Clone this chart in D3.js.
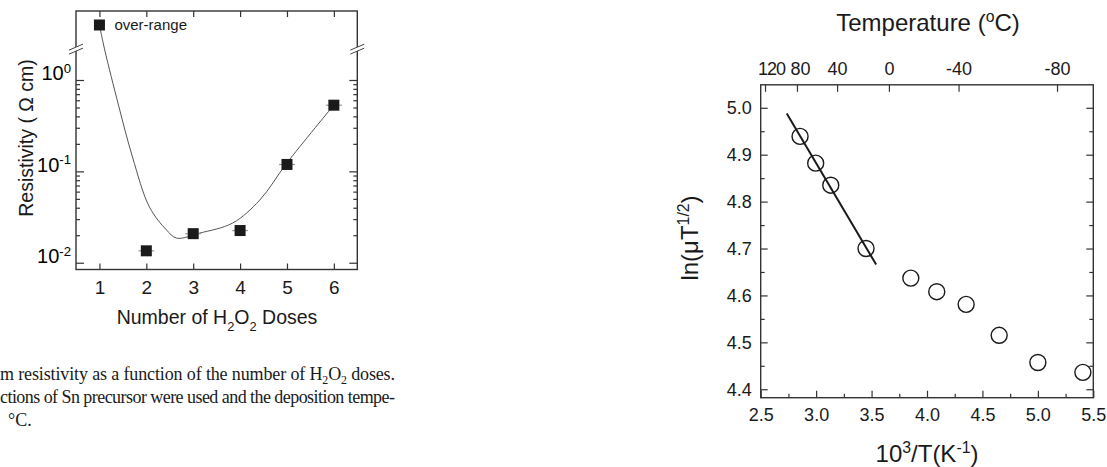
<!DOCTYPE html>
<html>
<head>
<meta charset="utf-8">
<script src="https://cdn.jsdelivr.net/npm/d3@7"></script>
<style>
  body { margin: 0; background: #fff; }
  svg { display: block; font-family: Arial, "Liberation Sans", sans-serif; fill: #1a1a1a; }
  .frame { fill: none; stroke: #333; stroke-width: 1.4; }
  .tick line { stroke: #333; stroke-width: 1.2; }
</style>
</head>
<body>
<svg id="fig" width="1107" height="467"></svg>
<script>
// ---- left panel: film resistivity vs number of H2O2 doses ----
var doses = [2, 3, 4, 5, 6];
var resistivity = [0.0135, 0.0208, 0.0225, 0.119, 0.53];
var overRangeDose = [1];
var overRangeValue = [4.0];
var fitDoses = [1.0, 1.113, 1.406, 1.705, 2.068, 2.432, 2.645, 3.137, 3.842, 4.419, 4.996, 6.0];
var fitRes = [4.0, 2.13, 0.532, 0.1435, 0.0406, 0.0228, 0.0186, 0.0211, 0.0272, 0.0485, 0.123, 0.532];
var doseTicks = [1, 2, 3, 4, 5, 6];
var resDecades = [-2, -1, 0];

// ---- right panel: ln(mu T^1/2) vs 1000/T ----
var invT = [2.855, 2.996, 3.132, 3.45, 3.854, 4.088, 4.353, 4.651, 5.0, 5.406];
var lnMuT = [4.939, 4.882, 4.835, 4.700, 4.637, 4.608, 4.581, 4.515, 4.457, 4.436];
var fitInvT = [2.735, 3.541];
var fitLn = [4.988, 4.666];
var invTTicks = [2.5, 3.0, 3.5, 4.0, 4.5, 5.0, 5.5];
var lnTicks = [4.4, 4.5, 4.6, 4.7, 4.8, 4.9, 5.0];
var tempTicks = [120, 80, 40, 0, -40, -80];

var captionLines = [
  [["m resistivity as a function of the number of H", 0], ["2", 1], ["O", 0], ["2", 1], [" doses.", 0]],
  [["ctions of Sn precursor were used and the deposition tempe-", 0]],
  [["°C.", 0]]
];

var svg = d3.select('#fig');

// write text made of pieces; shift 1 = subscript, -1 = superscript
function rich(sel, parts, size, k) {
  var prev = 0;
  k = k || 0.38;
  parts.forEach(function(p) {
    var shift = p[1];
    var off = shift * size * k;
    sel.append('tspan')
      .attr('dy', off - prev)
      .style('font-size', shift ? (size * 0.66) + 'px' : size + 'px')
      .text(p[0]);
    prev = off;
  });
  return sel;
}

// ================= LEFT PANEL =================
var L = { left: 76, right: 357.3, top: 11, bottom: 269.5 };
var xL = d3.scaleLinear().domain([0.5, 6.5]).range([L.left, L.right]);
var yL = d3.scaleLog().domain([0.00843, 5.69]).range([L.bottom, L.top]);

var leftG = svg.append('g');

var minorL = [];
resDecades.forEach(function(e) {
  for (var m = 2; m <= 9; m++) {
    var v = m * Math.pow(10, e);
    if (v < 1.5 && v > yL.domain()[0]) minorL.push(v);
  }
});
var majorL = resDecades.map(function(e) { return Math.pow(10, e); });

// axes, ticks inward
leftG.append('g').attr('transform', 'translate(0,' + L.bottom + ')')
  .call(d3.axisBottom(xL).tickValues(doseTicks).tickSize(-6).tickPadding(11).tickFormat(d3.format('d')))
  .call(function(g) { g.select('.domain').remove(); g.selectAll('text').style('font-size', '19px').attr('fill', '#1a1a1a'); });
leftG.append('g').attr('transform', 'translate(0,' + L.top + ')')
  .call(d3.axisTop(xL).tickValues(doseTicks).tickSize(-6).tickFormat(''))
  .call(function(g) { g.select('.domain').remove(); });

[[d3.axisLeft, L.left], [d3.axisRight, L.right]].forEach(function(a, i) {
  leftG.append('g').attr('transform', 'translate(' + a[1] + ',0)')
    .call(a[0](yL).tickValues(minorL).tickSize(-4).tickFormat(''))
    .call(function(g) { g.select('.domain').remove(); });
  var g = leftG.append('g').attr('transform', 'translate(' + a[1] + ',0)')
    .call(a[0](yL).tickValues(majorL).tickSize(-8).tickPadding(5).tickFormat(''));
  g.select('.domain').remove();
  if (i === 0) {
    g.selectAll('.tick text').each(function(d) {
      var t = d3.select(this).attr('dy', '0.3em');
      rich(t, [['10', 0], [String(Math.round(Math.log10(d))), -1]], 20);
    });
  }
});

leftG.append('rect').attr('class', 'frame')
  .attr('x', L.left).attr('y', L.top)
  .attr('width', L.right - L.left).attr('height', L.bottom - L.top);

// axis break marks
var breakY = yL(2.15);
[L.left, L.right].forEach(function(x) {
  leftG.append('polygon')
    .attr('points', [[x - 7, breakY + 4.5], [x + 7, breakY - 1.5], [x + 7, breakY - 5.5], [x - 7, breakY + 0.5]].join(' '))
    .attr('fill', '#fff');
  [0, -4].forEach(function(o) {
    leftG.append('line')
      .attr('x1', x - 7).attr('y1', breakY + 4.5 + o)
      .attr('x2', x + 7).attr('y2', breakY - 1.5 + o)
      .attr('stroke', '#444').attr('stroke-width', 1);
  });
});

// fit curve
var fitPts = fitDoses.map(function(d, i) { return [d, fitRes[i]]; });
leftG.append('path')
  .datum(fitPts)
  .attr('fill', 'none').attr('stroke', '#555').attr('stroke-width', 1)
  .attr('d', d3.line().x(function(d) { return xL(d[0]); }).y(function(d) { return yL(d[1]); })
    .curve(d3.curveCatmullRom.alpha(0.5)));

// error whiskers and squares
var pts = doses.map(function(d, i) { return { x: d, y: resistivity[i] }; });
leftG.selectAll('.err').data(pts).enter().append('line')
  .attr('x1', function(d) { return xL(d.x) - 8; }).attr('x2', function(d) { return xL(d.x) + 8; })
  .attr('y1', function(d) { return yL(d.y); }).attr('y2', function(d) { return yL(d.y); })
  .attr('stroke', '#999').attr('stroke-width', 1.2);
var allSq = pts.concat(overRangeDose.map(function(d, i) { return { x: d, y: overRangeValue[i] }; }));
leftG.selectAll('.sq').data(allSq).enter().append('rect')
  .attr('x', function(d) { return xL(d.x) - 5.5; })
  .attr('y', function(d) { return yL(d.y) - 5.5; })
  .attr('width', 11).attr('height', 11)
  .attr('fill', '#1a1a1a');

leftG.append('text')
  .attr('x', xL(overRangeDose[0]) + 15).attr('y', yL(overRangeValue[0]) + 5)
  .style('font-size', '15px').text('over-range');

rich(leftG.append('text').attr('text-anchor', 'middle')
  .attr('x', 217).attr('y', 324),
  [['Number of H', 0], ['2', 1], ['O', 0], ['2', 1], [' Doses', 0]], 19.5);

leftG.append('text')
  .attr('text-anchor', 'middle')
  .attr('transform', 'translate(33,138) rotate(-90)')
  .style('font-size', '19.5px')
  .text('Resistivity ( \u03A9 cm)');

// caption (cut from the page)
var capY = [380, 403, 426];
var capX = [0, 0, 8];
var capW = [395, 395, null];
captionLines.forEach(function(parts, i) {
  var t = svg.append('text')
    .attr('x', capX[i]).attr('y', capY[i])
    .style('font-family', '"Liberation Serif", "Times New Roman", serif')
    .style('font-size', '18px');
  if (capW[i]) t.attr('textLength', capW[i]).attr('lengthAdjust', 'spacing');
  rich(t, parts, 18, 0.22);
});

// ================= RIGHT PANEL =================
var R = { left: 760.7, right: 1093.3, top: 84.8, bottom: 397.7 };
var xR = d3.scaleLinear().domain([2.5, 5.5]).range([R.left, R.right]);
var yR = d3.scaleLinear().domain([4.382, 5.049]).range([R.bottom, R.top]);
var rightG = svg.append('g');

var minorX = d3.range(2.75, 5.5, 0.5);
var minorY = d3.range(4.45, 5.05, 0.1);

function noDomain(g) { g.select('.domain').remove(); }

rightG.append('g').attr('transform', 'translate(0,' + R.bottom + ')')
  .call(d3.axisBottom(xR).tickValues(invTTicks).tickSize(-7).tickPadding(11).tickFormat(d3.format('.1f')))
  .call(noDomain)
  .call(function(g) { g.selectAll('text').style('font-size', '18px').attr('fill', '#1a1a1a'); });
rightG.append('g').attr('transform', 'translate(0,' + R.bottom + ')')
  .call(d3.axisBottom(xR).tickValues(minorX).tickSize(-4).tickFormat(''))
  .call(noDomain);

rightG.append('g').attr('transform', 'translate(' + R.left + ',0)')
  .call(d3.axisLeft(yR).tickValues(lnTicks).tickSize(-7).tickPadding(9).tickFormat(d3.format('.1f')))
  .call(noDomain)
  .call(function(g) { g.selectAll('text').style('font-size', '18px').attr('fill', '#1a1a1a'); });
rightG.append('g').attr('transform', 'translate(' + R.left + ',0)')
  .call(d3.axisLeft(yR).tickValues(minorY).tickSize(-4).tickFormat(''))
  .call(noDomain);
rightG.append('g').attr('transform', 'translate(' + R.right + ',0)')
  .call(d3.axisRight(yR).tickValues(lnTicks).tickSize(-7).tickFormat(''))
  .call(noDomain);
rightG.append('g').attr('transform', 'translate(' + R.right + ',0)')
  .call(d3.axisRight(yR).tickValues(minorY).tickSize(-4).tickFormat(''))
  .call(noDomain);

// top temperature axis (deg C -> 1000/T)
var tempX = function(t) { return xR(1000 / (t + 273.15)); };
var topAxis = rightG.append('g').attr('class', 'tick');
topAxis.selectAll('line').data(tempTicks).enter().append('line')
  .attr('x1', tempX).attr('x2', tempX)
  .attr('y1', R.top).attr('y2', R.top + 7);
topAxis.selectAll('text').data(tempTicks).enter().append('text')
  .attr('x', function(d, i) { return tempX(d) + (i === 0 ? 6 : i === 1 ? 3 : 0); })
  .attr('y', 75)
  .attr('text-anchor', 'middle')
  .style('font-size', '18px')
  .style('letter-spacing', function(d, i) { return i === 0 ? '-1px' : null; })
  .text(function(d) { return d; });

rightG.append('rect').attr('class', 'frame')
  .attr('x', R.left).attr('y', R.top)
  .attr('width', R.right - R.left).attr('height', R.bottom - R.top);

// linear fit
rightG.append('line')
  .attr('x1', xR(fitInvT[0])).attr('y1', yR(fitLn[0]))
  .attr('x2', xR(fitInvT[1])).attr('y2', yR(fitLn[1]))
  .attr('stroke', '#1a1a1a').attr('stroke-width', 2);

rightG.selectAll('circle').data(invT).enter().append('circle')
  .attr('cx', function(d) { return xR(d); })
  .attr('cy', function(d, i) { return yR(lnMuT[i]); })
  .attr('r', 8)
  .attr('fill', 'none').attr('stroke', '#1a1a1a').attr('stroke-width', 1.4);

// titles
rich(rightG.append('text').attr('text-anchor', 'middle').attr('x', 928).attr('y', 31),
  [['Temperature (', 0], ['o', -1], ['C)', 0]], 24);
rich(rightG.append('text').attr('text-anchor', 'middle').attr('x', 927).attr('y', 462),
  [['10', 0], ['3', -1], ['/T(K', 0], ['-1', -1], [')', 0]], 24);
rich(rightG.append('text').attr('text-anchor', 'middle').attr('transform', 'translate(698,238) rotate(-90)'),
  [['ln(\u03BCT', 0], ['1/2', -1], [')', 0]], 24);
</script>
</body>
</html>
